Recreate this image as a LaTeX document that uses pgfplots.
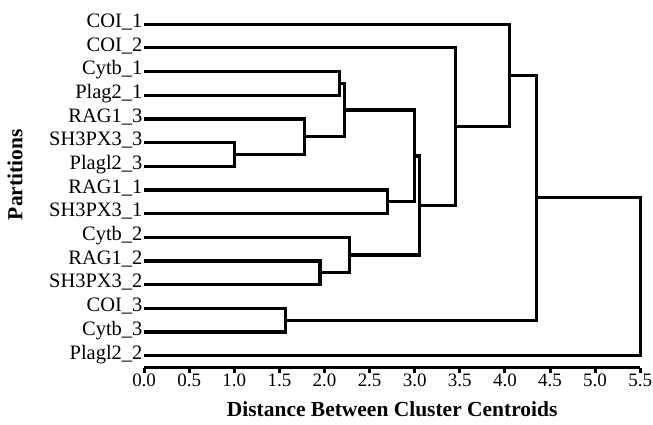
\documentclass[border=0pt]{standalone}
\usepackage{fontspec}
\setmainfont{Liberation Serif}
\usepackage{pgfplots}
\pgfplotsset{compat=1.18}

\begin{document}
\begin{tikzpicture}
\begin{axis}[
    scale only axis,
    width=496.7pt,
    height=355.6pt,
    xmin=0, xmax=5.5,
    ymin=0.5, ymax=15.5,
    clip=false,
    axis x line*=bottom,
    axis y line*=left,
    x axis line style={-, line width=3pt},
    y axis line style={draw=none},
    xtick={0,0.5,...,5.5},
    xtick align=outside,
    major tick length=5pt,
    xtick style={line width=3pt, black},
    ytick style={draw=none},
    xticklabel style={font=\fontsize{19}{22}\selectfont, inner xsep=0pt, inner ysep=1.5pt,
        /pgf/number format/.cd, fixed, fixed zerofill, precision=1, assume math mode=true},
    ytick={1,...,15},
    yticklabels={Plagl2\_2, Cytb\_3, COI\_3, SH3PX3\_2, RAG1\_2, Cytb\_2, SH3PX3\_1, RAG1\_1,
        Plagl2\_3, SH3PX3\_3, RAG1\_3, Plag2\_1, Cytb\_1, COI\_2, COI\_1},
    yticklabel style={font=\fontsize{20.5}{22}\selectfont, anchor=east, inner xsep=1.5pt,
        text height=0.66em, text depth=0pt, inner ysep=0pt},
    xlabel={\textbf{Distance Between Cluster Centroids}},
    ylabel={\textbf{Partitions}},
    xlabel style={font=\fontsize{21.5}{24}\selectfont, at={(axis description cs:0.5,-0.118)}, anchor=center},
    ylabel style={font=\fontsize{21.5}{24}\selectfont, at={(axis description cs:-0.26,0.543)}, anchor=center},
    dend/.style={black, solid, mark=none, line width=3.2pt, line join=miter},
]
% merges: child -> height -> other child
\addplot[dend] coordinates {(0,13) (2.17,13) (2.17,12) (0,12)};
\addplot[dend] coordinates {(0,10) (1.00,10) (1.00,9) (0,9)};
\addplot[dend] coordinates {(0,11) (1.78,11) (1.78,9.5) (1.00,9.5)};
\addplot[dend] coordinates {(2.17,12.5) (2.22,12.5) (2.22,10.25) (1.78,10.25)};
\addplot[dend] coordinates {(0,8) (2.70,8) (2.70,7) (0,7)};
\addplot[dend] coordinates {(2.22,11.375) (3.00,11.375) (3.00,7.5) (2.70,7.5)};
\addplot[dend] coordinates {(0,5) (1.95,5) (1.95,4) (0,4)};
\addplot[dend] coordinates {(0,6) (2.28,6) (2.28,4.5) (1.95,4.5)};
\addplot[dend] coordinates {(3.00,9.4375) (3.05,9.4375) (3.05,5.25) (2.28,5.25)};
\addplot[dend] coordinates {(0,14) (3.45,14) (3.45,7.34375) (3.05,7.34375)};
\addplot[dend] coordinates {(0,15) (4.05,15) (4.05,10.671875) (3.45,10.671875)};
\addplot[dend] coordinates {(0,3) (1.57,3) (1.57,2) (0,2)};
\addplot[dend] coordinates {(4.05,12.8359375) (4.35,12.8359375) (4.35,2.5) (1.57,2.5)};
\addplot[dend] coordinates {(4.35,7.66796875) (5.50,7.66796875) (5.50,1) (0,1)};
\end{axis}
\path ([shift={(-144.3pt,-57pt)}]current axis.south west) rectangle ([shift={(509.5pt,368pt)}]current axis.south west);
\end{tikzpicture}
\end{document}
